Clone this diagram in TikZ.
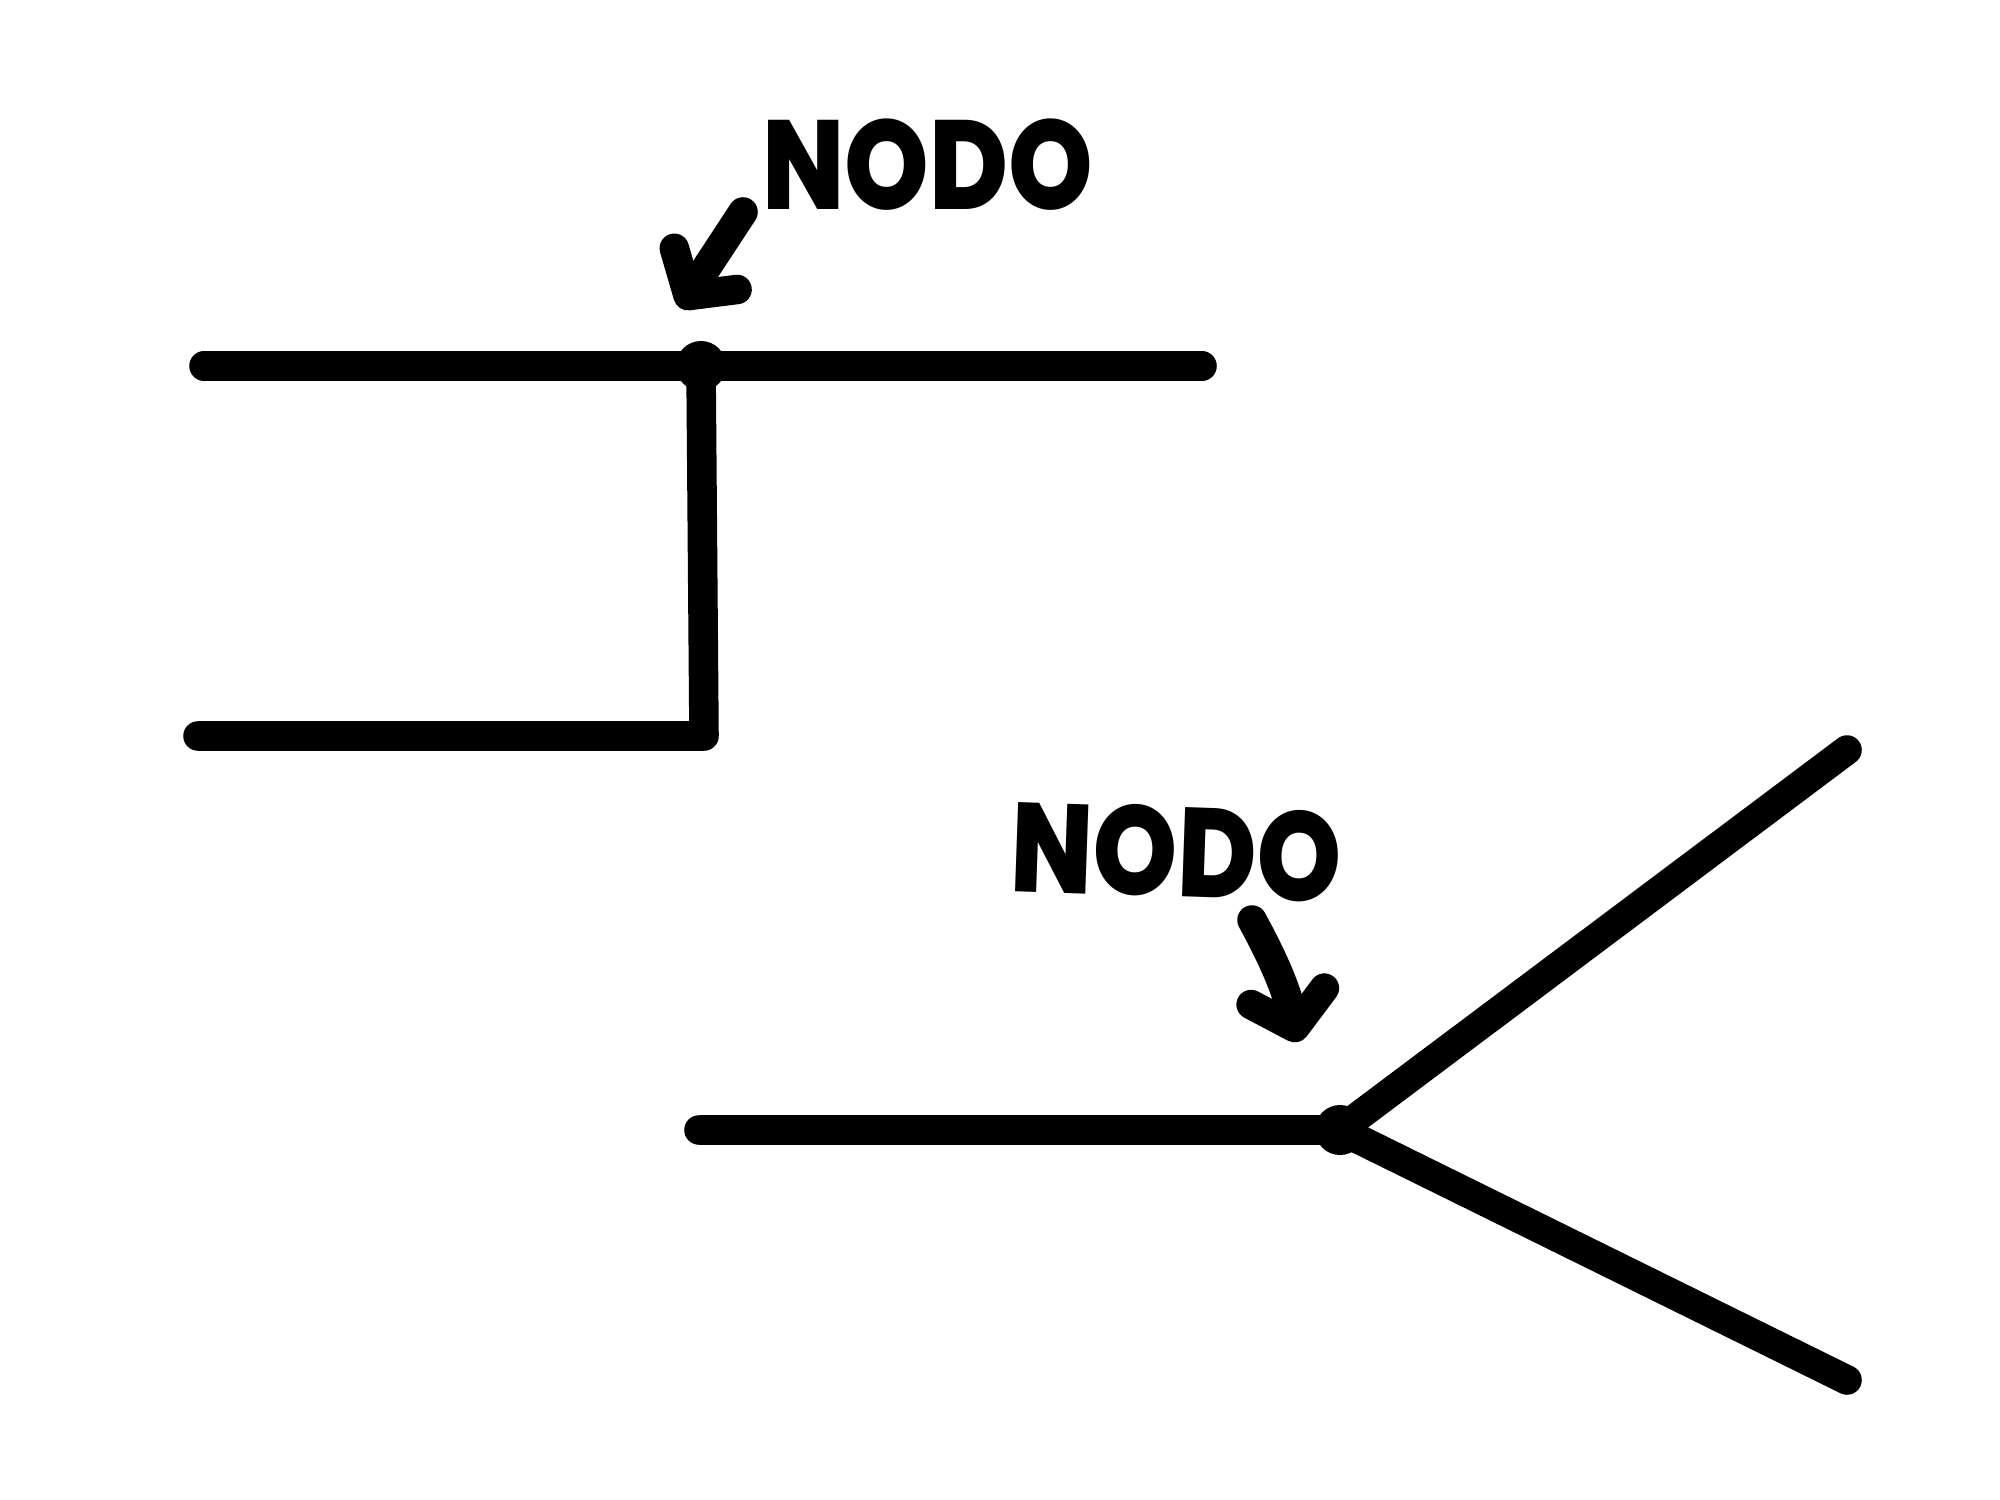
\documentclass[tikz,border=0pt]{standalone}
\usepackage{fontspec}
\setmainfont{Poppins}[BoldFont={Poppins ExtraBold}]
\usetikzlibrary{arrows.meta}
\tikzset{
  wire/.style={line width=8.4pt,line cap=round,line join=round},
  junc/.style={circle,fill=black,inner sep=0pt,minimum size=0.5cm},
  tag/.style={font=\fontsize{36}{40}\selectfont\bfseries,inner sep=0pt},
  pointer/.style={wire,-{Straight Barb[length=3.2mm,width=7.5mm,round]}},
}
\begin{document}
\begin{tikzpicture}[x=0.01cm,y=-0.01cm]
  \useasboundingbox (0,0) rectangle (2000,1500);
  % upper sketch
  \node[junc] (ja) at (701,366) {};
  \coordinate (ta) at (204,366);
  \coordinate (tb) at (1202,366);
  \coordinate (ba) at (198,736);
  \coordinate (bb) at (704,736);
  \draw[wire] (ta) -- (tb);
  \draw[wire] (ja.center) -- (bb) -- (ba);
  \node[tag] (lbla) at (928,165) {\scalebox{0.85}[1]{NODO}};
  \coordinate (pa) at (743,212);
  \coordinate (qa) at (680,308);
  \draw[pointer] (pa) -- (qa);
  % lower sketch
  \node[junc] (jb) at (1340,1130) {};
  \coordinate (la) at (699,1130);
  \coordinate (ua) at (1847,750);
  \coordinate (da) at (1847,1380);
  \draw[wire] (la) -- (jb.center) -- (ua);
  \draw[wire] (jb.center) -- (da);
  \node[tag,rotate=-2] (lblb) at (1176,852) {\scalebox{0.85}[1]{NODO}};
  \coordinate (pb) at (1252,920);
  \coordinate (qb) at (1298,1042);
  \draw[pointer] (pb) to[bend left=8] (qb);
\end{tikzpicture}
\end{document}
